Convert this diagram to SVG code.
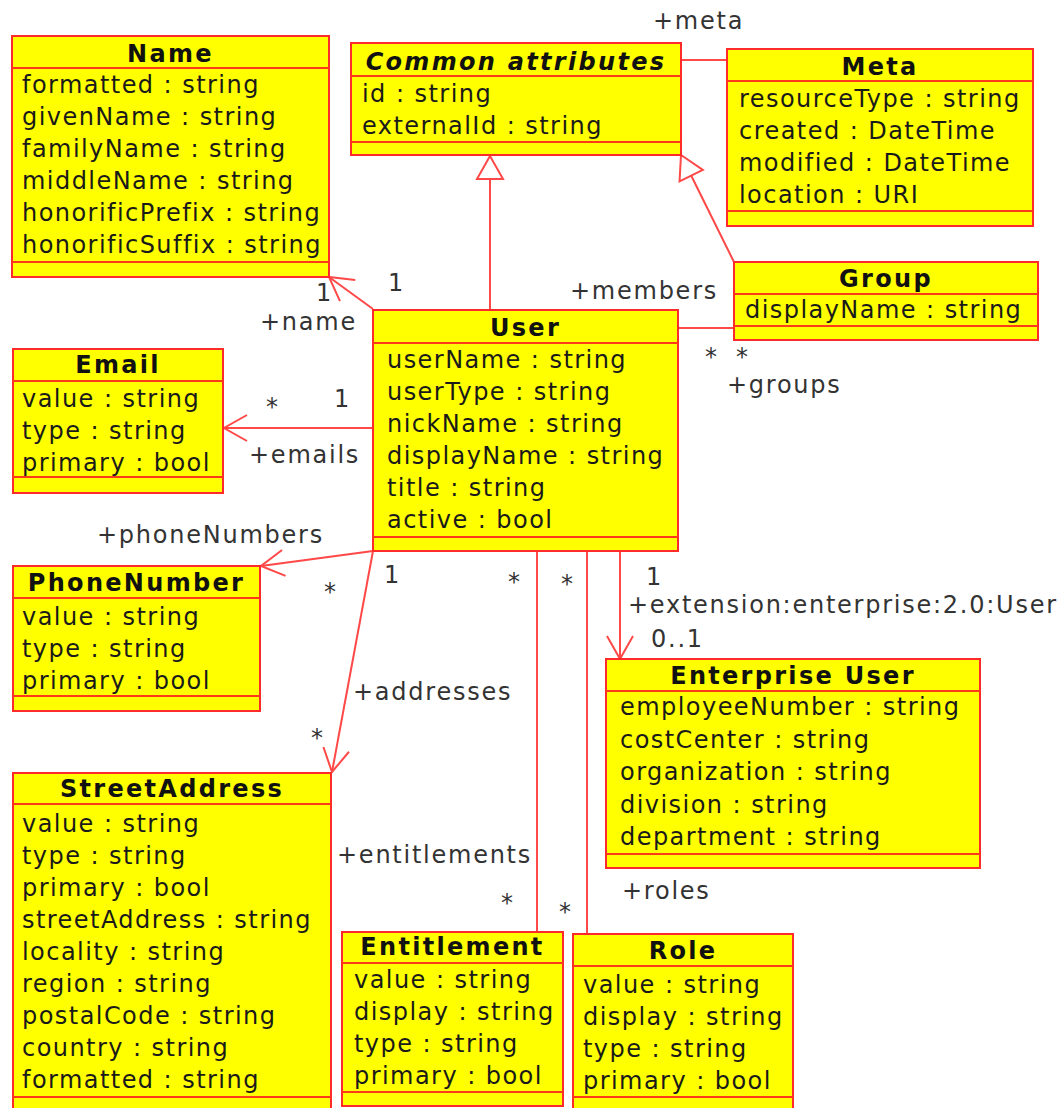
<svg xmlns="http://www.w3.org/2000/svg" width="1063" height="1108" viewBox="0 0 1063 1108">
  <defs>
    <style>
      .box { fill: #ffff00; stroke: #ff2a2a; stroke-width: 2; }
      .sep { stroke: #ff3a1a; stroke-width: 2; }
      .conn { stroke: #ff4848; stroke-width: 2; fill: none; }
      text { font-family: "DejaVu Sans", "Liberation Sans", sans-serif; font-size: 24px; }
      .hdr { font-weight: bold; text-anchor: middle; fill: #111; letter-spacing: 2.3px; }
      .abs { font-style: italic; }
      .attr { fill: #1a1a1a; letter-spacing: 1.45px; }
      .lbl { fill: #333; letter-spacing: 1.75px; }
    </style>
    <marker id="open" markerUnits="userSpaceOnUse" orient="auto" overflow="visible" refX="0" refY="0" markerWidth="30" markerHeight="30">
      <path d="M -23,-13 L 0,0 L -23,13" fill="none" stroke="#ff4848" stroke-width="2"/>
    </marker>
    <marker id="gen" markerUnits="userSpaceOnUse" orient="auto" overflow="visible" refX="0" refY="0" markerWidth="30" markerHeight="30">
      <path d="M 0,0 L -23,-13 L -23,13 Z" fill="#ffffff" stroke="#ff4848" stroke-width="2"/>
    </marker>
  </defs>
  <rect width="1063" height="1108" fill="#ffffff"/>

  <!-- connectors -->
  <g id="connectors">
    <line class="conn" x1="681" y1="60" x2="727" y2="60"/>
    <line class="conn" x1="490" y1="310" x2="490" y2="156" marker-end="url(#gen)"/>
    <line class="conn" x1="734" y1="262" x2="681" y2="155" marker-end="url(#gen)"/>
    <line class="conn" x1="678" y1="328" x2="734" y2="328"/>
    <line class="conn" x1="373" y1="309" x2="329" y2="277" marker-end="url(#open)"/>
    <line class="conn" x1="373" y1="428" x2="224" y2="428" marker-end="url(#open)"/>
    <line class="conn" x1="373" y1="551" x2="261" y2="566" marker-end="url(#open)"/>
    <line class="conn" x1="373" y1="551" x2="332" y2="772" marker-end="url(#open)"/>
    <line class="conn" x1="537" y1="551" x2="537" y2="932"/>
    <line class="conn" x1="587" y1="551" x2="587" y2="934"/>
    <line class="conn" x1="620" y1="551" x2="620" y2="659" marker-end="url(#open)"/>

    <text class="lbl" x="653" y="29">+meta</text>
    <text class="lbl" x="570" y="299">+members</text>
    <text class="lbl" x="705" y="365">*</text>
    <text class="lbl" x="736" y="365">*</text>
    <text class="lbl" x="727" y="393">+groups</text>
    <text class="lbl" x="388" y="291">1</text>
    <text class="lbl" x="316" y="301">1</text>
    <text class="lbl" x="260" y="330">+name</text>
    <text class="lbl" x="266" y="415">*</text>
    <text class="lbl" x="334" y="407">1</text>
    <text class="lbl" x="249" y="463">+emails</text>
    <text class="lbl" x="97" y="543">+phoneNumbers</text>
    <text class="lbl" x="324" y="600">*</text>
    <text class="lbl" x="384" y="583">1</text>
    <text class="lbl" x="353" y="700">+addresses</text>
    <text class="lbl" x="311" y="746">*</text>
    <text class="lbl" x="508" y="590">*</text>
    <text class="lbl" x="337" y="863">+entitlements</text>
    <text class="lbl" x="501" y="911">*</text>
    <text class="lbl" x="561" y="592">*</text>
    <text class="lbl" x="622" y="899">+roles</text>
    <text class="lbl" x="559" y="920">*</text>
    <text class="lbl" x="646" y="585">1</text>
    <text class="lbl" x="628" y="613">+extension:enterprise:2.0:User</text>
    <text class="lbl" x="651" y="647">0..1</text>
  </g>

  <!-- Name -->
  <g id="name">
    <rect class="box" x="12" y="36" width="317" height="241"/>
    <line class="sep" x1="12" y1="68" x2="329" y2="68"/>
    <line class="sep" x1="12" y1="262" x2="329" y2="262"/>
    <text class="hdr" x="170.5" y="62">Name</text>
    <text class="attr" x="22" y="93">formatted : string</text>
    <text class="attr" x="22" y="125">givenName : string</text>
    <text class="attr" x="22" y="157">familyName : string</text>
    <text class="attr" x="22" y="189">middleName : string</text>
    <text class="attr" x="22" y="221">honorificPrefix : string</text>
    <text class="attr" x="22" y="253">honorificSuffix : string</text>
  </g>

  <!-- Common attributes -->
  <g id="common">
    <rect class="box" x="351" y="43" width="330" height="112"/>
    <line class="sep" x1="351" y1="76" x2="681" y2="76"/>
    <line class="sep" x1="351" y1="142" x2="681" y2="142"/>
    <text class="hdr abs" x="516" y="70">Common attributes</text>
    <text class="attr" x="362" y="102">id : string</text>
    <text class="attr" x="362" y="134">externalId : string</text>
  </g>

  <!-- Meta -->
  <g id="meta">
    <rect class="box" x="727" y="49" width="306" height="177"/>
    <line class="sep" x1="727" y1="81" x2="1033" y2="81"/>
    <line class="sep" x1="727" y1="211" x2="1033" y2="211"/>
    <text class="hdr" x="880" y="75">Meta</text>
    <text class="attr" x="739" y="107">resourceType : string</text>
    <text class="attr" x="739" y="139">created : DateTime</text>
    <text class="attr" x="739" y="171">modified : DateTime</text>
    <text class="attr" x="739" y="203">location : URI</text>
  </g>

  <!-- Group -->
  <g id="group">
    <rect class="box" x="734" y="262" width="304" height="78"/>
    <line class="sep" x1="734" y1="294" x2="1038" y2="294"/>
    <line class="sep" x1="734" y1="326" x2="1038" y2="326"/>
    <text class="hdr" x="886" y="287">Group</text>
    <text class="attr" x="745" y="318">displayName : string</text>
  </g>

  <!-- User -->
  <g id="user">
    <rect class="box" x="373" y="310" width="305" height="241"/>
    <line class="sep" x1="373" y1="343" x2="678" y2="343"/>
    <line class="sep" x1="373" y1="537" x2="678" y2="537"/>
    <text class="hdr" x="525.5" y="336">User</text>
    <text class="attr" x="387" y="368">userName : string</text>
    <text class="attr" x="387" y="400">userType : string</text>
    <text class="attr" x="387" y="432">nickName : string</text>
    <text class="attr" x="387" y="464">displayName : string</text>
    <text class="attr" x="387" y="496">title : string</text>
    <text class="attr" x="387" y="528">active : bool</text>
  </g>

  <!-- Email -->
  <g id="email">
    <rect class="box" x="13" y="349" width="210" height="144"/>
    <line class="sep" x1="13" y1="381" x2="223" y2="381"/>
    <line class="sep" x1="13" y1="477" x2="223" y2="477"/>
    <text class="hdr" x="118" y="373">Email</text>
    <text class="attr" x="22" y="407">value : string</text>
    <text class="attr" x="22" y="439">type : string</text>
    <text class="attr" x="22" y="471">primary : bool</text>
  </g>

  <!-- PhoneNumber -->
  <g id="phonenumber">
    <rect class="box" x="13" y="566" width="247" height="145"/>
    <line class="sep" x1="13" y1="598" x2="260" y2="598"/>
    <line class="sep" x1="13" y1="696" x2="260" y2="696"/>
    <text class="hdr" x="136.5" y="591">PhoneNumber</text>
    <text class="attr" x="22" y="625">value : string</text>
    <text class="attr" x="22" y="657">type : string</text>
    <text class="attr" x="22" y="689">primary : bool</text>
  </g>

  <!-- StreetAddress -->
  <g id="streetaddress">
    <rect class="box" x="13" y="773" width="318" height="345"/>
    <line class="sep" x1="13" y1="804" x2="331" y2="804"/>
    <line class="sep" x1="13" y1="1097" x2="331" y2="1097"/>
    <text class="hdr" x="172" y="797">StreetAddress</text>
    <text class="attr" x="22" y="832">value : string</text>
    <text class="attr" x="22" y="864">type : string</text>
    <text class="attr" x="22" y="896">primary : bool</text>
    <text class="attr" x="22" y="928">streetAddress : string</text>
    <text class="attr" x="22" y="960">locality : string</text>
    <text class="attr" x="22" y="992">region : string</text>
    <text class="attr" x="22" y="1024">postalCode : string</text>
    <text class="attr" x="22" y="1056">country : string</text>
    <text class="attr" x="22" y="1088">formatted : string</text>
  </g>

  <!-- Enterprise User -->
  <g id="enterpriseuser">
    <rect class="box" x="606" y="659" width="374" height="209"/>
    <line class="sep" x1="606" y1="691" x2="980" y2="691"/>
    <line class="sep" x1="606" y1="854" x2="980" y2="854"/>
    <text class="hdr" x="793" y="684">Enterprise User</text>
    <text class="attr" x="620" y="715">employeeNumber : string</text>
    <text class="attr" x="620" y="748">costCenter : string</text>
    <text class="attr" x="620" y="780">organization : string</text>
    <text class="attr" x="620" y="813">division : string</text>
    <text class="attr" x="620" y="845">department : string</text>
  </g>

  <!-- Entitlement -->
  <g id="entitlement">
    <rect class="box" x="342" y="932" width="221" height="174"/>
    <line class="sep" x1="342" y1="963" x2="563" y2="963"/>
    <line class="sep" x1="342" y1="1092" x2="563" y2="1092"/>
    <text class="hdr" x="452.5" y="955">Entitlement</text>
    <text class="attr" x="354" y="988">value : string</text>
    <text class="attr" x="354" y="1020">display : string</text>
    <text class="attr" x="354" y="1052">type : string</text>
    <text class="attr" x="354" y="1084">primary : bool</text>
  </g>

  <!-- Role -->
  <g id="role">
    <rect class="box" x="573" y="934" width="220" height="184"/>
    <line class="sep" x1="573" y1="966" x2="793" y2="966"/>
    <line class="sep" x1="573" y1="1097" x2="793" y2="1097"/>
    <text class="hdr" x="683" y="959">Role</text>
    <text class="attr" x="583" y="993">value : string</text>
    <text class="attr" x="583" y="1025">display : string</text>
    <text class="attr" x="583" y="1057">type : string</text>
    <text class="attr" x="583" y="1089">primary : bool</text>
  </g>
</svg>
